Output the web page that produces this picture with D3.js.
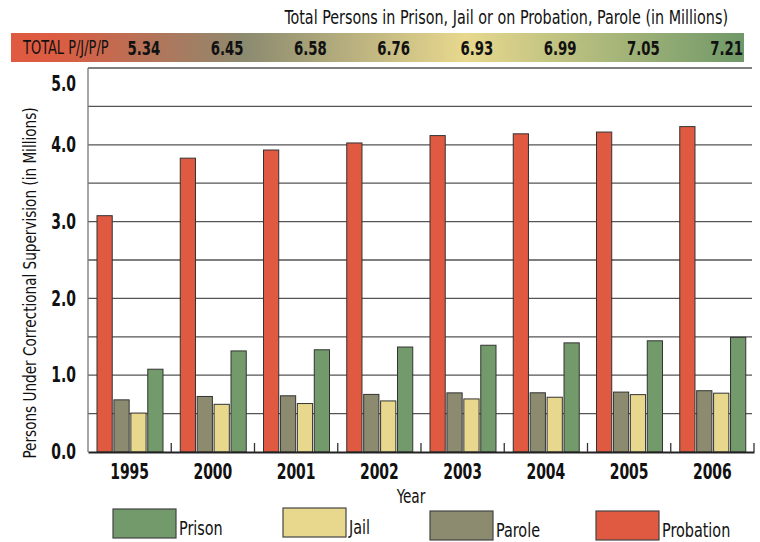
<!DOCTYPE html>
<html>
<head>
<meta charset="utf-8">
<script src="https://cdn.jsdelivr.net/npm/d3@7"></script>
<style>
  body { margin: 0; background: #fff; }
  svg text { font-family: "DejaVu Sans Condensed", "DejaVu Sans", sans-serif; fill: #111; }
</style>
</head>
<body>
<svg id="chart" width="760" height="542"></svg>
<script>
// data
const years = ['1995', '2000', '2001', '2002', '2003', '2004', '2005', '2006'];
const probation = [3.077, 3.826, 3.932, 4.024, 4.120, 4.143, 4.166, 4.237];
const parole = [0.679, 0.723, 0.732, 0.750, 0.770, 0.771, 0.780, 0.798];
const jail = [0.507, 0.621, 0.631, 0.665, 0.691, 0.713, 0.747, 0.766];
const prison = [1.078, 1.316, 1.331, 1.367, 1.390, 1.421, 1.448, 1.493];
const totals = ['5.34', '6.45', '6.58', '6.76', '6.93', '6.99', '7.05', '7.21'];
const yTicks = [0, 1, 2, 3, 4, 5];
const gridLines = [0.5, 1, 1.5, 2, 2.5, 3, 3.5, 4, 4.5, 5];

const series = [
  { name: 'Probation', values: probation, color: '#df5a41' },
  { name: 'Parole', values: parole, color: '#8c8b70' },
  { name: 'Jail', values: jail, color: '#e8d88e' },
  { name: 'Prison', values: prison, color: '#739a6b' }
];
const legendOrder = ['Prison', 'Jail', 'Parole', 'Probation'];
// legend layout (not evenly spaced in the original)
const legendPos = { Prison: [113, 509], Jail: [283, 508], Parole: [430, 511], Probation: [596, 511] };

const svg = d3.select('#chart');
const mLeft = 88, mRight = 754, mTop = 68, mBottom = 452;

// squeeze text horizontally around its own x (the font is narrower in the original)
function squeeze(sel, sx) {
  sel.each(function () {
    const t = d3.select(this);
    const tx = +t.attr('x') || 0;
    t.attr('transform', `translate(${tx - sx * tx},0) scale(${sx},1)`);
  });
}

const x = d3.scaleBand().domain(years).range([mLeft, mRight]).paddingInner(0).paddingOuter(0);
const sub = d3.scaleBand().domain(series.map(s => s.name))
  .range([9, 75]).paddingInner(0.1);
const y = d3.scaleLinear().domain([0, 5]).range([mBottom, mTop]);

// title + gradient band
svg.append('text').attr('x', 728).attr('y', 24).attr('text-anchor', 'end')
  .style('font-size', '19px').text('Total Persons in Prison, Jail or on Probation, Parole (in Millions)')
  .call(squeeze, 0.84);

const grad = svg.append('defs').append('linearGradient').attr('id', 'band');
[['0%', '#df5a41'], ['6%', '#dc5c42'], ['32%', '#8c8b70'], ['62%', '#e8d88e'], ['100%', '#6f9868']].forEach(s => {
  grad.append('stop').attr('offset', s[0]).attr('stop-color', s[1]);
});
svg.append('rect').attr('x', 11).attr('y', 33).attr('width', 733).attr('height', 29).attr('fill', 'url(#band)');
svg.append('text').attr('x', 23).attr('y', 54).style('font-size', '19px').text('TOTAL P/J/P/P')
  .call(squeeze, 0.76);
svg.selectAll('.tot').data(totals).enter().append('text')
  .attr('x', (d, i) => x(years[i]) + x.bandwidth() - 11)
  .attr('y', 55).attr('text-anchor', 'end')
  .style('font-size', '20px').style('font-weight', 'bold').text(d => d)
  .call(squeeze, 0.74);

// grid
svg.selectAll('.grid').data(gridLines).enter().append('line')
  .attr('x1', mLeft).attr('x2', 752).attr('y1', d => y(d)).attr('y2', d => y(d))
  .attr('stroke', '#555').attr('stroke-width', 1.3);
svg.append('line').attr('x1', mLeft).attr('x2', mLeft).attr('y1', mTop).attr('y2', mBottom)
  .attr('stroke', '#777').attr('stroke-width', 1.3);

// bars
series.forEach(s => {
  svg.selectAll('.b-' + s.name).data(s.values).enter().append('rect')
    .attr('x', (d, i) => x(years[i]) + sub(s.name))
    .attr('y', d => y(d))
    .attr('width', sub.bandwidth())
    .attr('height', d => y(0) - y(d))
    .attr('fill', s.color).attr('stroke', '#333').attr('stroke-width', 1);
});

// x axis
const xAxis = svg.append('g').attr('transform', `translate(0,${mBottom})`)
  .call(d3.axisBottom(x).tickSize(0).tickPadding(12));
xAxis.select('.domain').attr('stroke', '#222').attr('stroke-width', 2);
xAxis.selectAll('text').style('font-size', '21px').style('font-weight', 'bold')
  .style('font-family', '"DejaVu Sans Condensed", sans-serif').attr('fill', '#111')
  .call(squeeze, 0.74);
svg.selectAll('.sep').data(years).enter().append('line')
  .attr('x1', d => x(d) + x.bandwidth()).attr('x2', d => x(d) + x.bandwidth())
  .attr('y1', mBottom).attr('y2', mBottom - 9).attr('stroke', '#333').attr('stroke-width', 1.3);

// y axis
const yAxis = svg.append('g').attr('transform', `translate(${mLeft},0)`)
  .call(d3.axisLeft(y).tickValues(yTicks).tickFormat(d3.format('.1f')).tickSize(0).tickPadding(12));
yAxis.select('.domain').remove();
yAxis.selectAll('text').style('font-size', '21px').style('font-weight', 'bold')
  .style('font-family', '"DejaVu Sans Condensed", sans-serif').attr('fill', '#111')
  .call(squeeze, 0.74);
// top label sits just under the top line in the original
yAxis.selectAll('.tick').filter(d => d === 5).select('text').attr('dy', '1.05em');

svg.append('text').attr('transform', 'translate(36,283) rotate(-90) scale(0.84,1)').attr('text-anchor', 'middle')
  .style('font-size', '18px').text('Persons Under Correctional Supervision (in Millions)');
svg.append('text').attr('x', 411).attr('y', 503).attr('text-anchor', 'middle')
  .style('font-size', '19px').text('Year').call(squeeze, 0.8);

// legend
const lg = svg.selectAll('.lg').data(legendOrder).enter().append('g')
  .attr('transform', d => `translate(${legendPos[d][0]},${legendPos[d][1]})`);
lg.append('rect').attr('width', 63).attr('height', 29)
  .attr('fill', d => series.find(s => s.name === d).color).attr('stroke', '#444').attr('stroke-width', 1.2);
lg.append('text').attr('x', 66).attr('y', 26).style('font-size', '20px').text(d => d)
  .call(squeeze, 0.8);
</script>
</body>
</html>
